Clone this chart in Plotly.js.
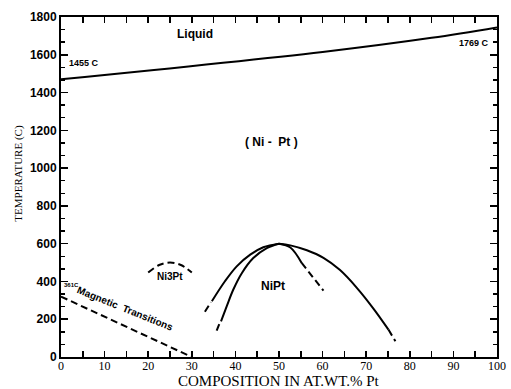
<!DOCTYPE html>
<html><head><meta charset="utf-8">
<script src="https://cdn.plot.ly/plotly-3.0.1.min.js"></script>
<style>html,body{margin:0;padding:0;background:#fff}#chart{width:511px;height:389px}</style>
</head><body><div id="chart"></div>
<script>
// Liquidus line
const liqX = [0, 60, 85, 100];
const liqT = [1470, 1615, 1690, 1745];
// Magnetic transition (dashed)
const magX = [0, 30];
const magT = [320, 0];
// Ni3Pt ordering dome (dashed)
const ni3X = [20, 22.5, 25, 27.5, 30];
const ni3T = [447, 487, 500, 487, 447];
// NiPt outer boundary
const outLX = [34.6, 37.6, 40.3, 43.4, 46.4, 50];
const outLT = [295, 401, 480, 542, 581, 600];
const outRX = [50, 52.6, 56.4, 60.2, 64, 67.9, 71.7, 75.1];
const outRT = [600, 591, 565, 525, 460, 365, 255, 145];
// NiPt inner boundary
const inLX = [36.7, 38.0, 39.5, 41.5, 44.1, 47.2, 50];
const inLT = [189, 268, 356, 445, 524, 577, 600];
const inRX = [50, 52.6, 55.2];
const inRT = [600, 580, 498];
// dashed extrapolations
const outLdX = [33.0, 34.4], outLdT = [240, 290];
const inLdX = [35.7, 36.4], inLdT = [140, 180];
const inRdX = [55.2, 60.2], inRdT = [498, 351];
const outRdX = [75.1, 76.7], outRdT = [145, 83];

const xTicks = [0,10,20,30,40,50,60,70,80,90,100];
const yTicks = [0,200,400,600,800,1000,1200,1400,1600,1800];

function ln(x, y, dash, shape) {
  return {x: x, y: y, type: 'scatter', mode: 'lines', hoverinfo: 'skip',
    line: {color: '#000', width: 2, dash: dash || 'solid', shape: shape || 'linear', smoothing: 1}};
}
const DASH = '7px,4px';
const traces = [
  ln(liqX, liqT, 'solid', 'spline'),
  ln(magX, magT, DASH),
  ln(ni3X, ni3T, DASH, 'spline'),
  ln(outLX, outLT, 'solid', 'spline'),
  ln(outRX, outRT, 'solid', 'spline'),
  ln(inLX, inLT, 'solid', 'spline'),
  ln(inRX, inRT, 'solid', 'spline'),
  ln(outLdX, outLdT, DASH),
  ln(inLdX, inLdT, DASH),
  ln(inRdX, inRdT, DASH),
  ln(outRdX, outRdT, DASH)
];

const sans = 'Liberation Sans, Arial, sans-serif';
const serif = 'Liberation Serif, Times New Roman, serif';
function ann(text, x, y, size, extra) {
  return Object.assign({text: text, x: x, y: y, xref: 'x', yref: 'y', showarrow: false,
    font: {family: sans, size: size, color: '#000', weight: 'bold'}}, extra || {});
}
const layout = {
  width: 511, height: 389,
  margin: {l: 61, r: 14, t: 17, b: 32},
  paper_bgcolor: '#fff', plot_bgcolor: '#fff',
  showlegend: false,
  xaxis: {range: [0, 100], tickvals: xTicks, ticktext: xTicks.map(String),
    ticks: 'inside', ticklen: 6, tickwidth: 1.5, tickcolor: '#000', ticklabelstandoff: -3,
    minor: {dtick: 5, tick0: 0, ticks: 'inside', ticklen: 6, tickwidth: 1.5, tickcolor: '#000'},
    showline: true, linewidth: 2, linecolor: '#000', mirror: 'ticks',
    showgrid: false, zeroline: false,
    tickfont: {family: serif, size: 12, color: '#000'}},
  yaxis: {range: [0, 1800], tickvals: yTicks, ticktext: yTicks.map(String),
    ticks: 'inside', ticklen: 7, tickwidth: 1.5, tickcolor: '#000',
    minor: {dtick: 200/3, tick0: 0, ticks: 'inside', ticklen: 4, tickwidth: 1.5, tickcolor: '#000'},
    showline: true, linewidth: 2, linecolor: '#000', mirror: 'ticks',
    showgrid: false, zeroline: false,
    tickfont: {family: sans, size: 12, color: '#000', weight: 'bold'}},
  annotations: [
    ann('Liquid', 30.8, 1710, 12),
    ann('1455 C', 5.3, 1556, 9),
    ann('1769 C', 94.7, 1664, 9),
    ann('( Ni -  Pt )', 48.2, 1140, 12),
    ann('Ni3Pt', 25, 425, 10),
    ann('NiPt', 48.7, 376, 12),
    ann('361C', 2.3, 381, 6),
    ann('Magnetic  Transitions', 14.7, 258, 10, {textangle: 22}),
    {text: 'TEMPERATURE (C)', xref: 'paper', yref: 'paper', x: -0.098, y: 0.54,
     xanchor: 'center', yanchor: 'middle',
     showarrow: false, textangle: -90, font: {family: serif, size: 11, color: '#000'}},
    {text: 'COMPOSITION IN AT.WT.% Pt', xref: 'paper', yref: 'paper', x: 0.5, y: -0.0706,
     xanchor: 'center', yanchor: 'middle', showarrow: false, font: {family: serif, size: 15, color: '#000'}}
  ]
};
Plotly.newPlot('chart', traces, layout, {staticPlot: true});
</script></body></html>
